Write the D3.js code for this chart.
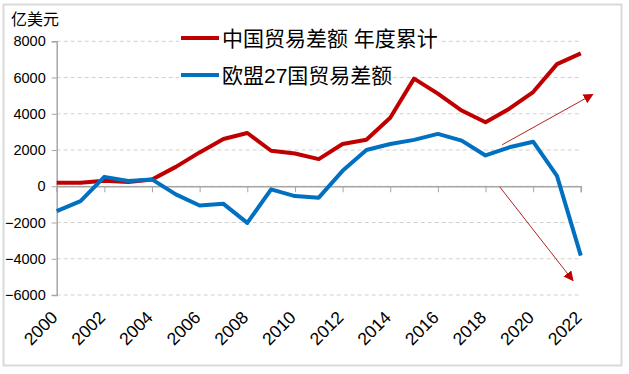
<!DOCTYPE html>
<html lang="zh">
<head>
<meta charset="utf-8">
<title>中国与欧盟27国贸易差额</title>
<script src="https://d3js.org/d3.v7.min.js"></script>
<style>
  body { margin: 0; background: #fff; }
  text { font-family: "Liberation Sans", Arial, "Noto Sans CJK SC", sans-serif; fill: #000; }
</style>
</head>
<body>
<div id="chart"></div>
<script>
// data, 亿美元
var years = d3.range(2000, 2023);
var china = [200, 200, 300, 240, 370, 1070, 1870, 2610, 2940, 1960, 1810, 1500,
             2330, 2570, 3780, 5940, 5110, 4180, 3530, 4280, 5200, 6740, 7330];
var eu27 = [-1370, -820, 520, 290, 380, -450, -1060, -970, -2020, -170, -540, -630,
            850, 2000, 2330, 2560, 2890, 2520, 1700, 2150, 2460, 570, -3830];
var yTicks = [-6000, -4000, -2000, 0, 2000, 4000, 6000, 8000];
var xTicks = d3.range(2000, 2023, 2);
var seriesNames = ["中国贸易差额 年度累计", "欧盟27国贸易差额"];
// trend arrows, in data units [year, value]
var arrows = [
  [[2018.7, 2290], [2022.5, 5070]],
  [[2018.6, -40], [2021.67, -5200]]
];

var w = 629, h = 374;
var red = "#c00000", blue = "#0070c0";

var svg = d3.select("#chart").append("svg")
  .attr("width", w).attr("height", h);

// outer frame
svg.append("rect")
  .attr("x", 3.5).attr("y", 4.5).attr("width", 618).attr("height", 361)
  .attr("fill", "#fff").attr("stroke", "#d9d9d9").attr("stroke-width", 2);

var x = d3.scaleLinear().domain([2000, 2022]).range([56.7, 580.8]);
var y = d3.scaleLinear().domain([-6000, 8000]).range([295, 41.3]);

// gridlines
svg.append("g").selectAll("line")
  .data(yTicks)
  .join("line")
  .attr("x1", x(2000)).attr("x2", x(2022))
  .attr("y1", d => y(d)).attr("y2", d => y(d))
  .attr("stroke", "#d0d0d0").attr("stroke-width", 1)
  .attr("stroke-dasharray", "4,3");

// y axis
var yAxis = svg.append("g")
  .attr("transform", `translate(${x(2000)},0)`)
  .call(d3.axisLeft(y).tickValues(yTicks).tickSize(5).tickPadding(6).tickFormat(d3.format("d")));
yAxis.select(".domain").attr("stroke", "#a6a6a6").attr("stroke-width", 1.5);
yAxis.selectAll(".tick line").attr("stroke", "#a6a6a6");
yAxis.selectAll(".tick text")
  .style("font-size", "14.5px")
  .style("font-family", "'Liberation Sans', Arial, sans-serif");

// x axis at zero
var xAxis = svg.append("g")
  .attr("transform", `translate(0,${y(0)})`)
  .call(d3.axisBottom(x).tickValues(xTicks).tickSize(6).tickFormat(""));
xAxis.select(".domain").attr("stroke", "#a6a6a6").attr("stroke-width", 1.5);
xAxis.selectAll(".tick line").attr("stroke", "#a6a6a6");

// x labels at the bottom, rotated
svg.append("g").selectAll("text")
  .data(xTicks)
  .join("text")
  .attr("transform", d => `translate(${x(d) + 2},${318.6}) rotate(-45)`)
  .attr("text-anchor", "end")
  .style("font-size", "17.5px")
  .text(d => d);

// unit
svg.append("text")
  .attr("x", 11).attr("y", 25)
  .style("font-size", "16px")
  .style("font-family", "'Noto Sans CJK SC', sans-serif")
  .text("亿美元");

// lines
var line = d3.line().x((d, i) => x(years[i])).y(d => y(d));
[[china, red], [eu27, blue]].forEach(function (s) {
  svg.append("path")
    .datum(s[0])
    .attr("d", line)
    .attr("fill", "none")
    .attr("stroke", s[1])
    .attr("stroke-width", 4)
    .attr("stroke-linejoin", "round");
});

// legend
var legend = svg.append("g");
var legY = [38, 75];
var legColors = [red, blue];
seriesNames.forEach(function (name, i) {
  var g = legend.append("g").attr("transform", `translate(181,${legY[i]})`);
  var bg = g.append("rect").attr("fill", "#fff");
  g.append("line")
    .attr("x1", 0).attr("x2", 38).attr("y1", 0).attr("y2", 0)
    .attr("stroke", legColors[i]).attr("stroke-width", 4);
  var t = g.append("text")
    .attr("x", 41).attr("dy", "0.36em")
    .style("font-size", "21px")
    .text(name);
  var bb = t.node().getBBox();
  bg.attr("x", -2).attr("y", -14).attr("width", bb.x + bb.width + 2).attr("height", 28);
});

// arrows
var defs = svg.append("defs");
defs.append("marker")
  .attr("id", "ahead")
  .attr("viewBox", "0 0 10 10")
  .attr("refX", 9).attr("refY", 5)
  .attr("markerWidth", 10).attr("markerHeight", 10)
  .attr("markerUnits", "userSpaceOnUse")
  .attr("orient", "auto")
  .append("path")
  .attr("d", "M0,0 L10,5 L0,10 Z")
  .attr("fill", red);

svg.append("g").selectAll("line")
  .data(arrows)
  .join("line")
  .attr("x1", d => x(d[0][0])).attr("y1", d => y(d[0][1]))
  .attr("x2", d => x(d[1][0])).attr("y2", d => y(d[1][1]))
  .attr("stroke", "#b22222").attr("stroke-width", 1)
  .attr("marker-end", "url(#ahead)");
</script>
</body>
</html>
